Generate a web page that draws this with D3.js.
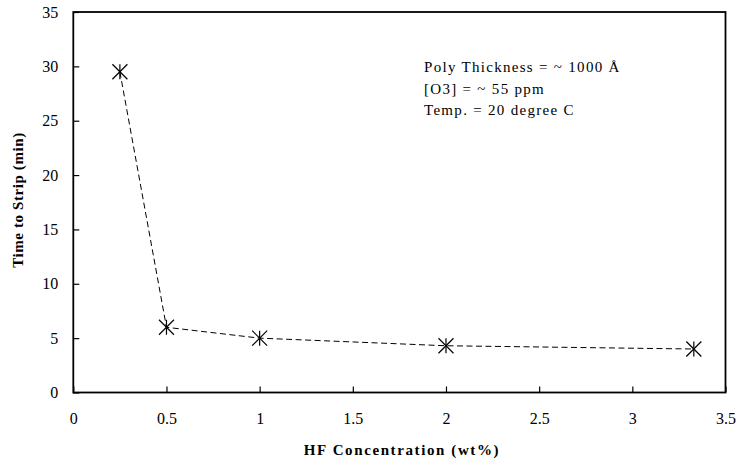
<!DOCTYPE html>
<html>
<head>
<meta charset="utf-8">
<script src="https://cdn.jsdelivr.net/npm/d3@7"></script>
<style>
  body { margin: 0; background: #fff; }
  svg text { font-family: "Liberation Serif", "Times New Roman", Times, "DejaVu Serif", serif; fill: #000; }
</style>
</head>
<body>
<div id="chart"></div>
<script>
// data
var hfConc = [0.25, 0.5, 1, 2, 3.33];
var stripTime = [29.5, 6, 5, 4.3, 4];
var xTicks = [0, 0.5, 1, 1.5, 2, 2.5, 3, 3.5];
var yTicks = [0, 5, 10, 15, 20, 25, 30, 35];
var notes = ["Poly Thickness = ~ 1000 \u00C5", "[O3] = ~ 55 ppm", "Temp. = 20 degree C"];

var serif = "'Liberation Serif', 'Times New Roman', Times, 'DejaVu Serif', serif";

var svgWidth = 738;
var svgHeight = 462;
var margin = { top: 12, right: 12.5, bottom: 69.5, left: 73.3 };
var chartWidth = svgWidth - margin.left - margin.right;
var chartHeight = svgHeight - margin.top - margin.bottom;

var svg = d3.select("#chart")
  .append("svg")
  .attr("width", svgWidth)
  .attr("height", svgHeight)
  .attr("font-family", serif);

var chartGroup = svg.append("g")
  .attr("transform", `translate(${margin.left}, ${margin.top})`);

var scaleX = d3.scaleLinear().domain([0, 3.5]).range([0, chartWidth]);
var scaleY = d3.scaleLinear().domain([0, 35]).range([chartHeight, 0]);

// frame
chartGroup.append("rect")
  .attr("width", chartWidth)
  .attr("height", chartHeight)
  .attr("fill", "none")
  .attr("stroke", "#000")
  .attr("stroke-width", 1.8);

// axes with ticks pointing inside
var xAxis = chartGroup.append("g")
  .attr("transform", `translate(0, ${chartHeight})`)
  .call(d3.axisBottom(scaleX).tickValues(xTicks).tickSizeInner(-6).tickSizeOuter(0)
    .tickPadding(20).tickFormat(d3.format("")));
var yAxis = chartGroup.append("g")
  .call(d3.axisLeft(scaleY).tickValues(yTicks).tickSizeInner(-6).tickSizeOuter(0)
    .tickPadding(15).tickFormat(d3.format("")));

[xAxis, yAxis].forEach(function(ax) {
  ax.attr("font-family", serif);
  ax.select(".domain").remove();
  ax.selectAll("line").attr("stroke", "#000").attr("stroke-width", 1.2);
  ax.selectAll("text").attr("font-size", 16).style("font-family", serif);
});

// data line
var pts = hfConc.map(function(d, i) { return [d, stripTime[i]]; });
chartGroup.append("path")
  .datum(pts)
  .attr("fill", "none")
  .attr("stroke", "#000")
  .attr("stroke-width", 1)
  .attr("stroke-dasharray", "6,3.5")
  .attr("d", d3.line().x(d => scaleX(d[0])).y(d => scaleY(d[1])));

// asterisk markers
var marks = chartGroup.selectAll(".mark")
  .data(pts)
  .enter()
  .append("g")
  .attr("transform", d => `translate(${scaleX(d[0])}, ${scaleY(d[1])})`);
var r = 7.5;
[[-r, -r, r, r], [-r, r, r, -r], [0, -r, 0, r]].forEach(function(s) {
  marks.append("line")
    .attr("x1", s[0]).attr("y1", s[1]).attr("x2", s[2]).attr("y2", s[3])
    .attr("stroke", "#000").attr("stroke-width", 1.2);
});

// annotation
chartGroup.selectAll(".note")
  .data(notes)
  .enter()
  .append("text")
  .attr("x", 424 - margin.left)
  .attr("y", (d, i) => 72 - margin.top + i * 21.5)
  .attr("font-size", 15)
  .attr("letter-spacing", 1.3)
  .style("font-family", serif)
  .text(d => d);

// axis titles
svg.append("text")
  .attr("x", 402)
  .attr("y", 455)
  .attr("text-anchor", "middle")
  .attr("font-size", 15)
  .attr("font-weight", "bold")
  .attr("letter-spacing", 1.6)
  .style("font-family", serif)
  .text("HF Concentration (wt%)");

svg.append("text")
  .attr("transform", `translate(23, 200) rotate(-90)`)
  .attr("text-anchor", "middle")
  .attr("font-size", 15)
  .attr("font-weight", "bold")
  .attr("letter-spacing", 0.6)
  .style("font-family", serif)
  .text("Time to Strip (min)");
</script>
</body>
</html>
